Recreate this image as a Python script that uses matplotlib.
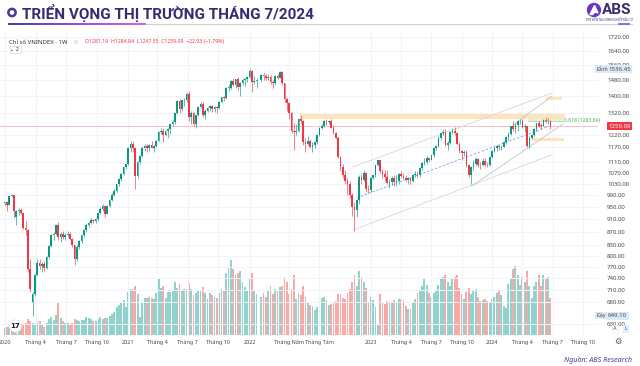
import matplotlib
matplotlib.use("Agg")
import matplotlib.pyplot as plt
import matplotlib.dates as mdates
import numpy as np
import pandas as pd
from matplotlib.patches import Rectangle, Circle, Polygon
from matplotlib.colors import LinearSegmentedColormap

plt.rcParams['font.family'] = ['Noto Sans', 'DejaVu Sans']

# ---------------- weekly VNINDEX data (week starting Monday) ----------------
opens = [
    # 2020
    961, 965, 957, 986, 991, 915, 935, 940, 931, 881, 875, 765, 680, 700, 748, 780, 772, 777, 768, 798,
    828, 860, 865, 890, 855, 865, 855, 862, 865, 850, 830, 790, 825, 842, 860, 876, 890, 899, 907, 905,
    910, 929, 944, 954, 925, 951, 972, 990, 1005, 1027, 1046, 1065, 1090,
    # 2021
    1104, 1167, 1185, 1166, 1056, 1111, 1133, 1168, 1175, 1166, 1180, 1168, 1176, 1197, 1232, 1240, 1220, 1240, 1245, 1267,
    1276, 1317, 1374, 1336, 1378, 1382, 1408, 1300, 1318, 1270, 1310, 1345, 1362, 1310, 1330, 1342, 1352, 1337, 1345, 1340,
    1370, 1392, 1389, 1440, 1441, 1476, 1456, 1485, 1444, 1466, 1480, 1485,
    # 2022
    1498, 1528, 1471, 1475, 1478, 1505, 1500, 1492, 1498, 1471, 1465, 1500, 1492, 1524, 1462, 1385, 1367, 1320, 1240, 1235,
    1240, 1290, 1280, 1190, 1182, 1197, 1170, 1180, 1190, 1220, 1252, 1262, 1280, 1276, 1282, 1252, 1231, 1210, 1132, 1090,
    1061, 1040, 1030, 990, 948, 940, 971, 1054, 1043, 1069, 1010,
    # 2023
    1007, 1052, 1060, 1098, 1117, 1077, 1065, 1055, 1032, 1035, 1051, 1035, 1040, 1065, 1059, 1052, 1043, 1050, 1040, 1063,
    1066, 1060, 1087, 1108, 1112, 1126, 1120, 1138, 1165, 1176, 1210, 1228, 1232, 1180, 1187, 1235, 1240, 1230, 1185, 1155,
    1145, 1150, 1100, 1060, 1090, 1105, 1122, 1100, 1098, 1115, 1100, 1098,
    # 2024
    1130, 1154, 1165, 1175, 1170, 1172, 1192, 1212, 1226, 1258, 1248, 1263, 1281, 1284, 1255, 1260, 1175, 1210, 1221, 1245,
    1271, 1262, 1261, 1287, 1280, 1281.19,
]
highs = [
    967, 968, 988, 993, 991, 940, 945, 946, 932, 905, 880, 790, 706, 752, 790, 790, 782, 785, 800, 830,
    865, 870, 895, 900, 870, 872, 868, 872, 870, 852, 832, 830, 845, 865, 880, 896, 905, 912, 910, 912,
    930, 950, 960, 956, 955, 975, 995, 1010, 1030, 1050, 1070, 1095, 1105,
    1170, 1195, 1195, 1170, 1115, 1140, 1175, 1185, 1185, 1185, 1195, 1180, 1200, 1240, 1250, 1252, 1240, 1250, 1268, 1285,
    1320, 1380, 1385, 1380, 1390, 1420, 1424, 1330, 1325, 1310, 1350, 1372, 1368, 1335, 1345, 1355, 1355, 1352, 1350, 1375,
    1395, 1398, 1445, 1460, 1478, 1490, 1486, 1495, 1470, 1490, 1490, 1500,
    1536.45, 1532, 1500, 1490, 1510, 1517, 1512, 1510, 1505, 1480, 1505, 1510, 1526, 1525, 1465, 1390, 1370, 1325, 1275, 1270,
    1295, 1310, 1285, 1210, 1215, 1205, 1190, 1195, 1225, 1255, 1268, 1285, 1290, 1286, 1290, 1265, 1235, 1215, 1135, 1105,
    1080, 1050, 1040, 995, 965, 975, 1060, 1065, 1080, 1072, 1025,
    1055, 1062, 1100, 1118, 1120, 1085, 1080, 1080, 1045, 1058, 1060, 1060, 1070, 1075, 1070, 1062, 1055, 1055, 1065, 1075,
    1075, 1090, 1110, 1125, 1135, 1128, 1140, 1170, 1180, 1215, 1230, 1245, 1245, 1195, 1240, 1250, 1255, 1232, 1190, 1160,
    1160, 1158, 1105, 1095, 1120, 1130, 1125, 1110, 1125, 1125, 1110, 1132,
    1160, 1170, 1180, 1180, 1180, 1195, 1215, 1235, 1260, 1280, 1275, 1285, 1290, 1292, 1270, 1262, 1215, 1225, 1250, 1275,
    1281, 1275, 1290, 1300, 1295, 1284.84,
]
lows = [
    955, 936, 955, 984, 912, 890, 922, 926, 878, 860, 755, 705, 649.1, 695, 745, 765, 755, 760, 765, 795,
    825, 845, 862, 845, 840, 848, 845, 855, 846, 825, 775, 785, 820, 838, 855, 870, 885, 895, 897, 896,
    905, 925, 935, 915, 925, 948, 968, 985, 1000, 1022, 1040, 1060, 1085,
    1100, 1150, 1150, 1010, 1050, 1105, 1130, 1155, 1150, 1155, 1165, 1150, 1170, 1195, 1225, 1190, 1215, 1210, 1225, 1260,
    1270, 1315, 1320, 1330, 1350, 1370, 1280, 1270, 1260, 1250, 1305, 1340, 1300, 1290, 1325, 1330, 1325, 1325, 1320, 1335,
    1365, 1375, 1385, 1425, 1435, 1450, 1440, 1430, 1400, 1455, 1450, 1470,
    1490, 1420, 1460, 1440, 1470, 1480, 1480, 1478, 1460, 1440, 1460, 1485, 1488, 1455, 1370, 1330, 1290, 1230, 1160, 1220,
    1235, 1275, 1180, 1150, 1180, 1165, 1150, 1165, 1185, 1215, 1245, 1255, 1265, 1270, 1250, 1225, 1205, 1125, 1075, 1050,
    1030, 990, 980, 920, 873, 918, 960, 1030, 1040, 1000, 995,
    1000, 1045, 1055, 1095, 1070, 1050, 1040, 1028, 1015, 1025, 1020, 1020, 1030, 1055, 1045, 1040, 1030, 1030, 1035, 1055,
    1050, 1055, 1082, 1100, 1105, 1110, 1118, 1130, 1160, 1172, 1200, 1220, 1175, 1160, 1185, 1225, 1220, 1180, 1145, 1120,
    1135, 1090, 1055, 1028, 1080, 1095, 1090, 1085, 1096, 1095, 1090, 1095,
    1125, 1150, 1155, 1160, 1160, 1170, 1185, 1200, 1222, 1240, 1230, 1240, 1270, 1250, 1235, 1170, 1165, 1205, 1218, 1240,
    1255, 1245, 1258, 1275, 1270, 1247.55,
]
closes = [
    965, 957, 986, 991, 937, 935, 940, 931, 881, 875, 765, 712, 700, 748, 780, 772, 777, 768, 798, 828,
    860, 865, 890, 855, 865, 855, 862, 865, 850, 830, 790, 825, 842, 860, 876, 890, 899, 907, 905, 910,
    929, 944, 954, 925, 951, 972, 990, 1005, 1027, 1046, 1065, 1090, 1104,
    1167, 1185, 1166, 1056, 1111, 1133, 1168, 1175, 1166, 1180, 1168, 1176, 1197, 1232, 1240, 1220, 1240, 1245, 1267, 1276,
    1317, 1374, 1336, 1378, 1382, 1408, 1300, 1318, 1270, 1310, 1345, 1362, 1310, 1330, 1342, 1352, 1337, 1345, 1340, 1370,
    1392, 1389, 1440, 1441, 1476, 1456, 1485, 1444, 1466, 1480, 1485, 1498,
    1528, 1471, 1475, 1478, 1505, 1500, 1492, 1498, 1471, 1465, 1500, 1492, 1524, 1462, 1385, 1367, 1320, 1240, 1235, 1240,
    1290, 1280, 1190, 1182, 1197, 1170, 1180, 1190, 1220, 1252, 1262, 1280, 1276, 1282, 1252, 1231, 1210, 1132, 1090, 1061,
    1040, 1030, 990, 948, 940, 971, 1054, 1043, 1069, 1010, 1007,
    1052, 1060, 1098, 1117, 1077, 1065, 1055, 1032, 1035, 1051, 1035, 1040, 1065, 1059, 1052, 1043, 1050, 1040, 1063, 1066,
    1060, 1087, 1108, 1112, 1126, 1120, 1138, 1165, 1176, 1210, 1228, 1232, 1180, 1187, 1235, 1240, 1230, 1185, 1155, 1145,
    1150, 1100, 1060, 1090, 1105, 1122, 1100, 1098, 1115, 1100, 1098, 1130,
    1154, 1165, 1175, 1170, 1172, 1192, 1212, 1226, 1258, 1248, 1263, 1281, 1284, 1255, 1260, 1175, 1210, 1221, 1245, 1271,
    1262, 1261, 1287, 1280, 1282.02, 1259.09,
]
volumes = [
    700, 750, 750, 500, 600, 950, 800, 850, 950, 1100, 1500, 1300, 1100, 950, 1250, 1300, 1000, 750, 1150, 1500,
    1650, 1450, 1850, 3000, 1600, 1300, 1150, 1100, 1000, 1150, 1500, 1450, 1350, 1450, 1450, 1650, 1600, 1500, 1350, 1300,
    1500, 1650, 1500, 1600, 1600, 1800, 1950, 2200, 2600, 2800, 3000, 3300, 2600,
    4000, 4300, 4100, 4600, 3800, 1700, 3000, 3500, 3500, 3600, 3500, 3400, 3900, 5300, 4400, 4600, 3500, 4000, 4000, 4200,
    5000, 4400, 4800, 4200, 4300, 4300, 4900, 4300, 3700, 3900, 4200, 4100, 4500, 3900, 3400, 3900, 3700, 3600, 3500, 3900,
    4300, 4200, 5800, 6400, 7000, 6200, 5600, 5800, 6000, 5000, 4500, 4200,
    5200, 5800, 4200, 3800, 3600, 3900, 3600, 4100, 4600, 3800, 4300, 4200, 4500, 4600, 5400, 5000, 3800, 4300, 5600, 3400,
    3800, 3700, 4600, 3600, 3000, 2800, 2700, 2300, 2600, 3300, 3500, 3600, 3300, 2800, 2900, 3100, 3200, 3800, 3800, 3500,
    3400, 3900, 4300, 5000, 5600, 4600, 6000, 5400, 5000, 4400, 3000,
    3600, 3300, 2600, 900, 3800, 3000, 2900, 3200, 3000, 3100, 3300, 3000, 3400, 3400, 3300, 2700, 2400, 2400, 3100, 3400,
    3900, 4200, 4600, 5200, 4700, 3900, 3600, 3900, 4200, 4700, 5200, 5400, 5600, 5000, 4600, 5200, 5400, 5600, 4400, 3800,
    3400, 4000, 4400, 3800, 4100, 4300, 3600, 3200, 3300, 3400, 3200, 3000,
    3400, 3600, 3900, 4100, 3700, 2700, 2500, 4800, 5300, 6200, 6500, 5600, 4700, 5400, 5000, 6000, 4600, 3500, 4600, 5000,
    5600, 4600, 5600, 5200, 5400, 3500,
]

price_ticks = [1720, 1640, 1560, 1480, 1400, 1320, 1220, 1170, 1110, 1070, 1030, 990, 950, 910,
               870, 830, 800, 770, 740, 710, 680, 630]
time_tick_dates = ["2020-01-01", "2020-04-01", "2020-07-01", "2020-10-01", "2021-01-04", "2021-04-01",
                   "2021-07-01", "2021-10-01", "2022-01-03", "2022-05-02", "2022-08-01", "2023-01-02",
                   "2023-04-03", "2023-07-03", "2023-10-02", "2024-01-01", "2024-04-01", "2024-07-01",
                   "2024-10-01"]
time_tick_labels = ["2020", "Tháng 4", "Tháng 7", "Tháng 10", "2021", "Tháng 4", "Tháng 7", "Tháng 10",
                    "2022", "Tháng Năm", "Tháng Tám", "2023", "Tháng 4", "Tháng 7", "Tháng 10", "2024",
                    "Tháng 4", "Tháng 7", "Tháng 10"]

last_price = 1259.09
peak_price = 1536.45
bottom_price = 649.10
fib_level = 1283.69

# drawings (date, price) anchors
chan_upper = (["2022-11-10", "2024-06-29"], [1092, 1414])
chan_lower = (["2022-11-10", "2024-06-29"], [876, 1139])
steep_lower = (["2023-11-01", "2024-08-01"], [1021, 1269])
steep_upper = (["2024-03-04", "2024-06-29"], [1264, 1399])
blue_trend = (["2022-11-21", "2024-06-22"], [980, 1260])
orange_zones = [("2022-06-04", "2024-08-07", 1290, 1312),
                ("2024-06-10", "2024-07-28", 1382, 1393),
                ("2024-04-30", "2024-08-04", 1194, 1209)]
green_zone = ("2024-04-18", "2024-08-01", 1278, 1289)

# ---------------- figure ----------------
fig = plt.figure(figsize=(6.4, 3.66), dpi=100)

def px_rect(x0, y0, w, h):
    return [x0 / 640, 1 - (y0 + h) / 366, w / 640, h / 366]

dates = pd.date_range("2019-12-30", "2024-06-24", freq="W-MON")
dates = dates[dates != pd.Timestamp("2022-01-31")]
xd = mdates.date2num(dates)
o = np.array(opens); h = np.array(highs); l = np.array(lows); c = np.array(closes)
up = c >= o

UP = '#089981'; DN = '#F23645'
VUP = '#92D2CC'; VDN = '#F7A9A7'

axv = fig.add_axes(px_rect(0, 30, 598, 305))
ax = fig.add_axes(px_rect(0, 30, 598, 305), sharex=axv)
ax.set_facecolor('none')

x_left = mdates.date2num(pd.Timestamp("2019-12-16"))
x_right = mdates.date2num(pd.Timestamp("2024-11-14"))

# volume
axv.bar(xd, volumes, width=5.6, color=np.where(up, VUP, VDN), linewidth=0, zorder=2)
axv.set_ylim(0, 28560)
axv.set_xlim(x_left, x_right)
axv.axis('off')

# grid
ax.set_yscale('log')
ax.set_ylim(606.6, 1762.6)
ax.set_xlim(x_left, x_right)
tick_x = mdates.date2num(pd.to_datetime(time_tick_dates))
for t in price_ticks:
    ax.axhline(t, color='#F0F3FA', lw=0.7, zorder=0)
for tx in tick_x:
    ax.axvline(tx, color='#F0F3FA', lw=0.7, zorder=0)

# last price line
ax.axhline(last_price, color='#F7B5BA', lw=0.6, zorder=1)

# zones
for d0, d1, p0, p1 in orange_zones:
    x0 = mdates.date2num(pd.Timestamp(d0)); x1 = mdates.date2num(pd.Timestamp(d1))
    ax.add_patch(Rectangle((x0, p0), x1 - x0, p1 - p0, facecolor='#FFE3BC', edgecolor='none', zorder=1.5))
gx0 = mdates.date2num(pd.Timestamp(green_zone[0])); gx1 = mdates.date2num(pd.Timestamp(green_zone[1]))
ax.add_patch(Rectangle((gx0, green_zone[2]), gx1 - gx0, green_zone[3] - green_zone[2],
                       facecolor='#E2F2DE', edgecolor='none', zorder=1.5))
ax.plot([gx0, gx1], [fib_level, fib_level], color='#A5D6A7', lw=0.5, zorder=1.6)
ax.text(gx1 + 2, fib_level, "0.618 (1283.69)", color='#4CAF50', fontsize=3.6, va='center', ha='left', zorder=5)

# channel lines
for (dd, pp), col, ls in [(chan_upper, '#D6D6D6', '-'), (chan_lower, '#D6D6D6', '-'),
                          (steep_lower, '#C4C4C4', '-'), (steep_upper, '#C4C4C4', '-'),
                          (blue_trend, '#7E9CF0', (0, (3, 2)))]:
    ax.plot(mdates.date2num(pd.to_datetime(dd)), pp, color=col, lw=0.6, ls=ls, zorder=1.8)

# candles
ax.vlines(xd, l, h, colors=np.where(up, UP, DN), lw=0.45, zorder=3)
body_lo = np.minimum(o, c); body_hi = np.maximum(o, c)
body_h = np.maximum(body_hi - body_lo, body_lo * 0.0015)
ax.bar(xd, body_h, bottom=body_lo, width=5.0, color=np.where(up, UP, DN), linewidth=0, zorder=3.5)

# axes ticks
for s in ax.spines.values():
    s.set_visible(False)
ax.yaxis.tick_right()
ax.set_yticks(price_ticks)
ax.set_yticklabels([f"{t:.2f}" for t in price_ticks])
ax.minorticks_off()
ax.tick_params(axis='y', length=0, pad=6.5, labelsize=4.4, labelcolor='#4A4A4A')
ax.set_xticks(tick_x)
ax.set_xticklabels(time_tick_labels)
ax.tick_params(axis='x', length=0, pad=3.5, labelsize=3.9, labelcolor='#4A4A4A')

ytr = ax.get_yaxis_transform()
ax.text(1.017, last_price, "1259.09", transform=ytr, color='white', fontsize=4.4, va='center', ha='left',
        bbox=dict(boxstyle='square,pad=0.25', fc='#F23645', ec='none'), zorder=10, clip_on=False)
ax.text(1.017, peak_price, "1536.45", transform=ytr, color='#4A4A4A', fontsize=4.4, va='center', ha='left',
        bbox=dict(boxstyle='square,pad=0.25', fc='#DCEAF8', ec='none'), zorder=10, clip_on=False)
ax.text(0.998, peak_price, "Đỉnh", transform=ytr, color='#4A4A4A', fontsize=3.8, va='center', ha='left',
        bbox=dict(boxstyle='square,pad=0.25', fc='#DCEAF8', ec='none'), zorder=10, clip_on=False)
ax.text(1.017, bottom_price, "649.10", transform=ytr, color='#4A4A4A', fontsize=4.4, va='center', ha='left',
        bbox=dict(boxstyle='square,pad=0.25', fc='#DCEAF8', ec='none'), zorder=10, clip_on=False)
ax.text(0.998, bottom_price, "Đáy", transform=ytr, color='#4A4A4A', fontsize=3.8, va='center', ha='left',
        bbox=dict(boxstyle='square,pad=0.25', fc='#DCEAF8', ec='none'), zorder=10, clip_on=False)

# ---------------- overlay (pixel coordinates) ----------------
ov = fig.add_axes([0, 0, 1, 1])
ov.set_facecolor('none')

# title
ov.add_patch(Circle((12, 12.5), 4.2, color='#4A3A9C', zorder=5))
ov.add_patch(Circle((12, 12.5), 1.6, color='white', zorder=6))
ov.text(22, 13, "TRIỂN VỌNG THỊ TRƯỜNG THÁNG 7/2024", fontsize=11, fontweight='bold',
        family=['Roboto', 'DejaVu Sans'], color='#3A2A70', va='center', ha='left')
grad = np.linspace(0, 1, 256).reshape(1, -1)
cmap = LinearSegmentedColormap.from_list('g', ['#4B3AA6', '#9A4FD8', '#D564E6'])
ov.imshow(grad, extent=[8, 146, 25.4, 23.4], cmap=cmap, aspect='auto', zorder=4)
ov.plot([146, 632], [24.4, 24.4], color='#D0D0D0', lw=0.8)

# ABS logo
ov.add_patch(Circle((594, 10), 6.5, color='#6B35C4', zorder=5))
ov.add_patch(Polygon([[590, 14.5], [594.5, 5.5], [598, 13], [595, 12], [592.5, 14.5]], closed=True,
                     color='white', zorder=6))
ov.text(602, 10.5, "ABS", fontsize=11, fontweight='bold', family=['Roboto', 'DejaVu Sans'],
        color='#3A2A70', va='center', ha='left')
ov.text(609, 20.3, "TRỢ VIÊN TÀI CHÍNH NGHIỆP ĐẦU TƯ", fontsize=1.9, color='#3A2A70', va='center', ha='center')
ov.plot([619, 629], [24.4, 24.4], color='#8A4FD8', lw=1.2)

# legend
ov.text(9, 42, "Chỉ số VNINDEX · 1W", fontsize=4.3, color='#333333', va='center', ha='left')
ov.add_patch(Circle((76, 42), 2.2, facecolor='#E6E6E6', edgecolor='none'))
ov.text(85, 42, "O1281.19  H1284.84  L1247.55  C1259.09  −22.93 (−1.79%)", fontsize=3.7, color='#F23645',
        va='center', ha='left')
ov.add_patch(Rectangle((9.5, 46), 11, 7, facecolor='white', edgecolor='#D8D8D8', lw=0.5))
ov.text(15, 49.6, "⌄ 2", fontsize=3.6, color='#333333', va='center', ha='center', family='DejaVu Sans')

# tradingview logo
ov.add_patch(Circle((15.5, 326), 6.2, facecolor='white', edgecolor='#E0E0E0', lw=0.5, zorder=6))
ov.text(15.5, 326.3, "17", fontsize=5, fontweight='bold', family='DejaVu Sans', color='#131722',
        va='center', ha='center', zorder=7)

# A / L buttons and gear
ov.text(615, 329, "A", fontsize=4, color='#555555', va='center', ha='center',
        bbox=dict(boxstyle='square,pad=0.3', fc='white', ec='#E6E6E6', lw=0.4))
ov.text(626, 329, "L", fontsize=4, color='#2962FF', va='center', ha='center',
        bbox=dict(boxstyle='square,pad=0.3', fc='#E3EEFD', ec='none'))
ov.text(618, 341, "⚙", fontsize=6, color='#555555', va='center', ha='center', family='DejaVu Sans')

# footer
ov.text(632, 360, "Nguồn: ABS Research", fontsize=5.2, style='italic', color='#4A3B8C', va='center', ha='right')

ov.set_xlim(0, 640); ov.set_ylim(366, 0); ov.axis('off')

fig.savefig("out.png", dpi=100)
